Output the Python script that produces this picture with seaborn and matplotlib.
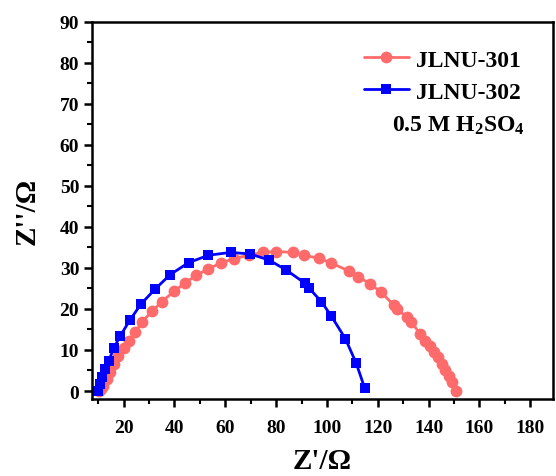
import matplotlib
matplotlib.use("Agg")
import matplotlib.pyplot as plt
from matplotlib.ticker import MultipleLocator
import seaborn as sns
import pandas as pd

# Nyquist data (Z' / Z'' in ohm)
jlnu301_zre = [10.2, 11.1, 12.1, 13.5, 14.8, 16.1, 18.0, 20.0, 22.0, 24.6, 27.2, 31.2,
               35.1, 39.9, 44.3, 48.6, 53.4, 58.3, 63.5, 69.2, 74.8, 80.1, 86.6, 90.8,
               96.7, 101.7, 108.5, 112.2, 116.8, 121.3, 126.2, 127.5, 131.5, 133.1,
               136.7, 138.7, 140.7, 142.0, 143.5, 145.3, 146.6, 147.9, 149.2, 150.9]
jlnu301_zim = [0.0, 0.4, 1.3, 2.9, 4.6, 6.6, 8.5, 10.4, 12.1, 14.3, 16.8, 19.4,
               21.8, 24.3, 26.4, 28.2, 29.8, 31.2, 32.3, 33.1, 33.8, 34.0, 33.8, 33.1,
               32.4, 31.2, 29.3, 27.9, 26.2, 24.1, 21.0, 20.0, 18.0, 16.9,
               13.9, 12.3, 10.9, 9.5, 8.2, 6.6, 5.2, 3.7, 2.3, 0.1]

jlnu302_zre = [9.8, 10.6, 11.5, 12.8, 14.1, 16.1, 18.7, 22.4, 27.0, 32.5, 38.4, 45.6,
               53.4, 62.2, 69.9, 77.3, 84.0, 91.3, 92.8, 97.8, 101.7, 107.3, 111.5, 114.8]
jlnu302_zim = [0.1, 1.7, 3.3, 5.4, 7.2, 10.4, 13.4, 17.2, 21.3, 24.9, 28.4, 31.3,
               33.1, 33.8, 33.4, 31.9, 29.5, 26.3, 25.2, 21.8, 18.3, 12.7, 6.8, 0.8]

labels = ["JLNU-301", "JLNU-302"]
electrolyte = r"0.5 M H$_\mathbf{2}$SO$_\mathbf{4}$"

sns.set_theme(style="ticks")
plt.rcParams["font.family"] = ["Liberation Serif", "DejaVu Serif"]
plt.rcParams["font.weight"] = "bold"
plt.rcParams["text.color"] = "black"
plt.rcParams["axes.labelcolor"] = "black"
plt.rcParams["xtick.color"] = "black"
plt.rcParams["ytick.color"] = "black"
plt.rcParams["mathtext.fontset"] = "custom"
plt.rcParams["mathtext.rm"] = "Liberation Serif:bold"
plt.rcParams["mathtext.bf"] = "Liberation Serif:bold"
plt.rcParams["mathtext.it"] = "Liberation Serif:bold"

fig = plt.figure(figsize=(5.56, 4.77), dpi=100)
ax = fig.add_axes([0.165, 0.161, 0.830, 0.791])

df1 = pd.DataFrame({"x": jlnu301_zre, "y": jlnu301_zim})
df2 = pd.DataFrame({"x": jlnu302_zre, "y": jlnu302_zim})

sns.lineplot(data=df1, x="x", y="y", sort=False, ax=ax, color="#FF6B6B",
             marker="o", markersize=8.5, markeredgewidth=0, linewidth=2.0,
             label=labels[0])
sns.lineplot(data=df2, x="x", y="y", sort=False, ax=ax, color="#0000FF",
             marker="s", markersize=7.5, markeredgewidth=0, linewidth=2.0,
             label=labels[1])

ax.set_xlim(7.5, 189)
ax.set_ylim(-2, 90)
ax.xaxis.set_major_locator(MultipleLocator(20))
ax.xaxis.set_minor_locator(MultipleLocator(10))
ax.yaxis.set_major_locator(MultipleLocator(10))
ax.yaxis.set_minor_locator(MultipleLocator(5))
ax.set_xticks(range(20, 181, 20))

for s in ax.spines.values():
    s.set_visible(True)
    s.set_linewidth(1.8)
    s.set_color("black")

ax.tick_params(axis="both", which="major", direction="out", length=6, width=1.8,
               labelsize=14, colors="black", labelcolor="black")
ax.tick_params(axis="x", which="major", pad=8.5)
ax.tick_params(axis="y", which="major", pad=3)
ax.tick_params(axis="both", which="minor", direction="out", length=3.5, width=1.5,
               colors="black")
for lab in ax.get_xticklabels() + ax.get_yticklabels():
    lab.set_fontweight("bold")
    lab.set_color("black")

ax.set_xlabel("Z'/Ω", fontsize=21, fontweight="bold", labelpad=8, color="black")
ax.set_ylabel("Z''/Ω", fontsize=21, fontweight="bold", labelpad=14, color="black")

leg = ax.legend(loc="upper left", bbox_to_anchor=(0.59, 0.928), frameon=False,
                fontsize=17, handlelength=1.9, borderaxespad=0.0, borderpad=0.0,
                labelspacing=0.45, handletextpad=0.3)
for t in leg.get_texts():
    t.set_fontweight("bold")
    t.set_color("black")

ax.text(0.794, 0.712, electrolyte, transform=ax.transAxes, ha="center", va="baseline",
        fontsize=17, fontweight="bold", color="black")

fig.savefig("out.png", dpi=100)
